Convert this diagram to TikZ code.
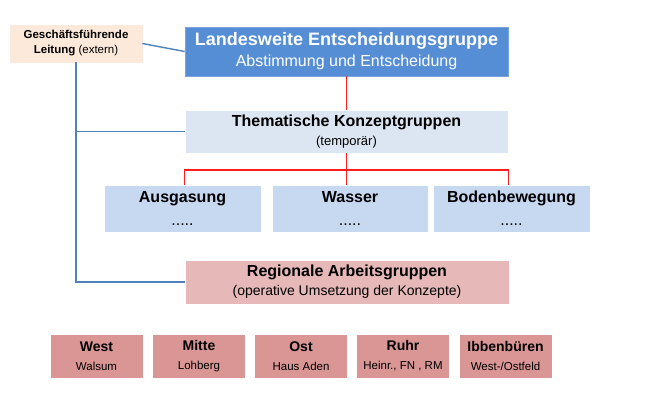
\documentclass[tikz,border=0pt]{standalone}
\usepackage{fontspec}
\setmainfont{Liberation Sans}
\usepackage{xcolor}
\usepackage{tikz}
\usetikzlibrary{calc,positioning}
\definecolor{leitPeach}{RGB}{253,233,217}
\definecolor{landBlue}{RGB}{85,142,213}
\definecolor{landBlueLight}{RGB}{120,165,225}
\definecolor{themBlue}{RGB}{220,230,242}
\definecolor{fachBlue}{RGB}{198,217,241}
\definecolor{regRose}{RGB}{230,185,184}
\definecolor{ortRose}{RGB}{217,150,148}
\definecolor{lineBlue}{RGB}{79,129,189}
\definecolor{lineRed}{RGB}{255,30,30}

\begin{document}
\begin{tikzpicture}[x=1pt,y=-1pt,
  box/.style={minimum width=#1, inner sep=0pt, align=center, draw=white, line width=0.6pt},
  blueline/.style={lineBlue, line width=1.4pt},
  redline/.style={lineRed, line width=1.2pt}]
\useasboundingbox (0,0) rectangle (668,411);
\node[box=132pt, minimum height=37pt, fill=leitPeach, draw=leitPeach,
  font=\fontsize{11.5}{15}\selectfont] (gfl) at (76,43.5)
  {\textbf{Geschäftsführende}\\\textbf{Leitung} (extern)};
\node[box=323pt, minimum height=49pt, fill=landBlue, draw=landBlueLight, text=white,
  font=\fontsize{16}{21}\selectfont] (lew) at (346.5,51.5)
  {{\fontsize{18}{21}\selectfont\bfseries Landesweite Entscheidungsgruppe}\\Abstimmung und Entscheidung};
\node[box=323pt, minimum height=43pt, fill=themBlue,
  font=\fontsize{13}{19}\selectfont] (them) at (346.5,131.5)
  {{\fontsize{16}{19}\selectfont\bfseries Thematische Konzeptgruppen}\\(temporär)};
\node[box=157pt, minimum height=47pt, fill=fachBlue,
  font=\fontsize{16}{23}\selectfont] (ausg) at (182.5,208.5)
  {\textbf{Ausgasung}\\.....};
\node[box=156pt, minimum height=47pt, fill=fachBlue,
  font=\fontsize{16}{23}\selectfont] (wass) at (350,208.5)
  {\textbf{Wasser}\\.....};
\node[box=157pt, minimum height=47pt, fill=fachBlue,
  font=\fontsize{16}{23}\selectfont] (bod) at (511.5,208.5)
  {\textbf{Bodenbewegung}\\.....};
\node[box=324pt, minimum height=44pt, fill=regRose,
  font=\fontsize{14}{19}\selectfont] (reg) at (347,282)
  {{\fontsize{16}{19}\selectfont\bfseries Regionale Arbeitsgruppen}\\(operative Umsetzung der Konzepte)};
\node[box=93pt, minimum height=44pt, fill=ortRose, font=\fontsize{11.5}{19}\selectfont] (west) at (96.5,356)
  {{\fontsize{14}{19}\selectfont\bfseries West}\\Walsum};
\node[box=93pt, minimum height=44pt, fill=ortRose, font=\fontsize{11.5}{19}\selectfont] (mitte) at (199,356)
  {{\fontsize{14}{19}\selectfont\bfseries Mitte}\\Lohberg};
\node[box=93pt, minimum height=44pt, fill=ortRose, font=\fontsize{11.5}{19}\selectfont] (ost) at (301,356)
  {{\fontsize{14}{19}\selectfont\bfseries Ost}\\Haus Aden};
\node[box=93pt, minimum height=44pt, fill=ortRose, font=\fontsize{11.5}{19}\selectfont] (ruhr) at (403,356)
  {{\fontsize{14}{19}\selectfont\bfseries Ruhr}\\Heinr., FN , RM};
\node[box=93pt, minimum height=44pt, fill=ortRose, font=\fontsize{11.5}{19}\selectfont] (ibb) at (505.5,356)
  {{\fontsize{14}{19}\selectfont\bfseries Ibbenbüren}\\West-/Ostfeld};
\coordinate (split) at (346.5,170);
\draw[blueline] (gfl.east) -- (lew.west);
\draw[blueline] (gfl.south) |- (reg.west);
\draw[blueline] (gfl.south |- them.west) -- (them.west);
\draw[redline] (lew.south) -- (them.north);
\draw[redline] (them.south) -- (split);
\draw[redline] (ausg.north -| them.west) |- (split) -| (bod.north -| them.east);
\draw[redline] (split) -- (wass.north -| split);
\end{tikzpicture}
\end{document}
